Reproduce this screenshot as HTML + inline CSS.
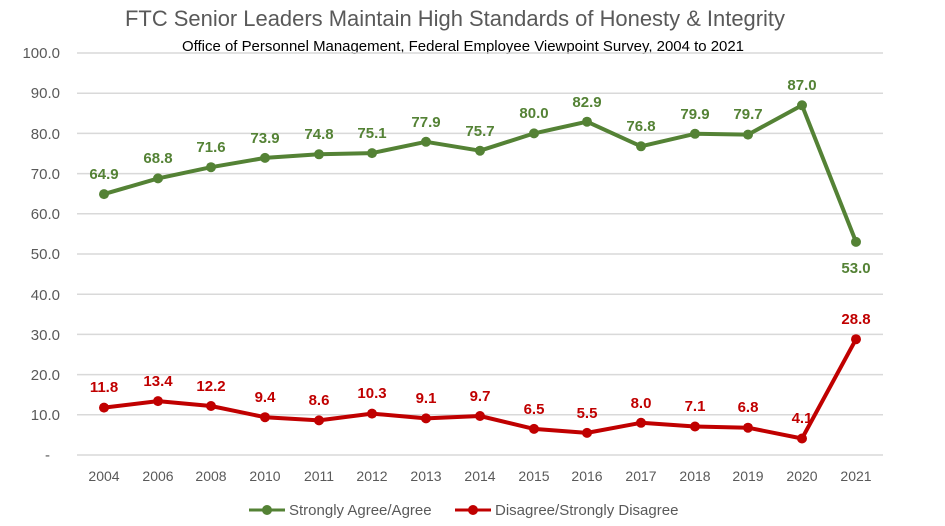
<!DOCTYPE html>
<html><head><meta charset="utf-8"><style>
html,body{margin:0;padding:0;background:#fff}
svg{display:block}
text{font-family:"Liberation Sans",sans-serif}
</style></head><body>
<svg width="945" height="526" viewBox="0 0 945 526" xmlns="http://www.w3.org/2000/svg">
<text x="455" y="26" text-anchor="middle" font-size="22" fill="#595959" textLength="660" lengthAdjust="spacingAndGlyphs">FTC Senior Leaders Maintain High Standards of Honesty &amp; Integrity</text>
<text x="463" y="51" text-anchor="middle" font-size="14.5" fill="#000" textLength="562" lengthAdjust="spacingAndGlyphs">Office of Personnel Management, Federal Employee Viewpoint Survey, 2004 to 2021</text>
<g stroke="#d9d9d9" stroke-width="1.5">
<line x1="77" x2="883" y1="53" y2="53"/><line x1="77" x2="883" y1="93.2" y2="93.2"/><line x1="77" x2="883" y1="133.4" y2="133.4"/><line x1="77" x2="883" y1="173.6" y2="173.6"/><line x1="77" x2="883" y1="213.8" y2="213.8"/><line x1="77" x2="883" y1="254" y2="254"/><line x1="77" x2="883" y1="294.2" y2="294.2"/><line x1="77" x2="883" y1="334.4" y2="334.4"/><line x1="77" x2="883" y1="374.6" y2="374.6"/><line x1="77" x2="883" y1="414.8" y2="414.8"/><line x1="77" x2="883" y1="455" y2="455"/>
</g>
<g font-size="15" fill="#595959" text-anchor="end">
<text x="60" y="58">100.0</text><text x="60" y="98">90.0</text><text x="60" y="139">80.0</text><text x="60" y="179">70.0</text><text x="60" y="219">60.0</text><text x="60" y="259">50.0</text><text x="60" y="300">40.0</text><text x="60" y="340">30.0</text><text x="60" y="380">20.0</text><text x="60" y="420">10.0</text><text x="50" y="460">-</text>
</g>
<g font-size="14" fill="#595959" text-anchor="middle">
<text x="104" y="481">2004</text><text x="158" y="481">2006</text><text x="211" y="481">2008</text><text x="265" y="481">2010</text><text x="319" y="481">2011</text><text x="372" y="481">2012</text><text x="426" y="481">2013</text><text x="480" y="481">2014</text><text x="534" y="481">2015</text><text x="587" y="481">2016</text><text x="641" y="481">2017</text><text x="695" y="481">2018</text><text x="748" y="481">2019</text><text x="802" y="481">2020</text><text x="856" y="481">2021</text>
</g>
<polyline fill="none" stroke="#548235" stroke-width="4" stroke-linejoin="round" points="104,194.1 158,178.4 211,167.2 265,157.9 319,154.3 372,153.1 426,141.8 480,150.7 534,133.4 587,121.7 641,146.3 695,133.8 748,134.6 802,105.3 856,241.9"/>
<g fill="#548235">
<circle cx="104" cy="194.1" r="5"/><circle cx="158" cy="178.4" r="5"/><circle cx="211" cy="167.2" r="5"/><circle cx="265" cy="157.9" r="5"/><circle cx="319" cy="154.3" r="5"/><circle cx="372" cy="153.1" r="5"/><circle cx="426" cy="141.8" r="5"/><circle cx="480" cy="150.7" r="5"/><circle cx="534" cy="133.4" r="5"/><circle cx="587" cy="121.7" r="5"/><circle cx="641" cy="146.3" r="5"/><circle cx="695" cy="133.8" r="5"/><circle cx="748" cy="134.6" r="5"/><circle cx="802" cy="105.3" r="5"/><circle cx="856" cy="241.9" r="5"/>
</g>
<g font-size="15" font-weight="bold" fill="#548235" text-anchor="middle">
<text x="104" y="179">64.9</text><text x="158" y="163">68.8</text><text x="211" y="152">71.6</text><text x="265" y="143">73.9</text><text x="319" y="139">74.8</text><text x="372" y="138">75.1</text><text x="426" y="127">77.9</text><text x="480" y="136">75.7</text><text x="534" y="118">80.0</text><text x="587" y="107">82.9</text><text x="641" y="131">76.8</text><text x="695" y="119">79.9</text><text x="748" y="119">79.7</text><text x="802" y="90">87.0</text><text x="856" y="273">53.0</text>
</g>
<polyline fill="none" stroke="#c00000" stroke-width="4" stroke-linejoin="round" points="104,407.6 158,401.1 211,406 265,417.2 319,420.4 372,413.6 426,418.4 480,416 534,428.9 587,432.9 641,422.8 695,426.5 748,427.7 802,438.5 856,339.2"/>
<g fill="#c00000">
<circle cx="104" cy="407.6" r="5"/><circle cx="158" cy="401.1" r="5"/><circle cx="211" cy="406" r="5"/><circle cx="265" cy="417.2" r="5"/><circle cx="319" cy="420.4" r="5"/><circle cx="372" cy="413.6" r="5"/><circle cx="426" cy="418.4" r="5"/><circle cx="480" cy="416" r="5"/><circle cx="534" cy="428.9" r="5"/><circle cx="587" cy="432.9" r="5"/><circle cx="641" cy="422.8" r="5"/><circle cx="695" cy="426.5" r="5"/><circle cx="748" cy="427.7" r="5"/><circle cx="802" cy="438.5" r="5"/><circle cx="856" cy="339.2" r="5"/>
</g>
<g font-size="15" font-weight="bold" fill="#c00000" text-anchor="middle">
<text x="104" y="392">11.8</text><text x="158" y="386">13.4</text><text x="211" y="391">12.2</text><text x="265" y="402">9.4</text><text x="319" y="405">8.6</text><text x="372" y="398">10.3</text><text x="426" y="403">9.1</text><text x="480" y="401">9.7</text><text x="534" y="414">6.5</text><text x="587" y="418">5.5</text><text x="641" y="408">8.0</text><text x="695" y="411">7.1</text><text x="748" y="412">6.8</text><text x="802" y="423">4.1</text><text x="856" y="324">28.8</text>
</g>
<line x1="249" x2="285" y1="510" y2="510" stroke="#548235" stroke-width="3"/><circle cx="267" cy="510" r="5" fill="#548235"/>
<text x="289" y="515" font-size="15" fill="#595959">Strongly Agree/Agree</text>
<line x1="455" x2="491" y1="510" y2="510" stroke="#c00000" stroke-width="3"/><circle cx="473" cy="510" r="5" fill="#c00000"/>
<text x="495" y="515" font-size="15" fill="#595959">Disagree/Strongly Disagree</text>
</svg>
</body></html>
